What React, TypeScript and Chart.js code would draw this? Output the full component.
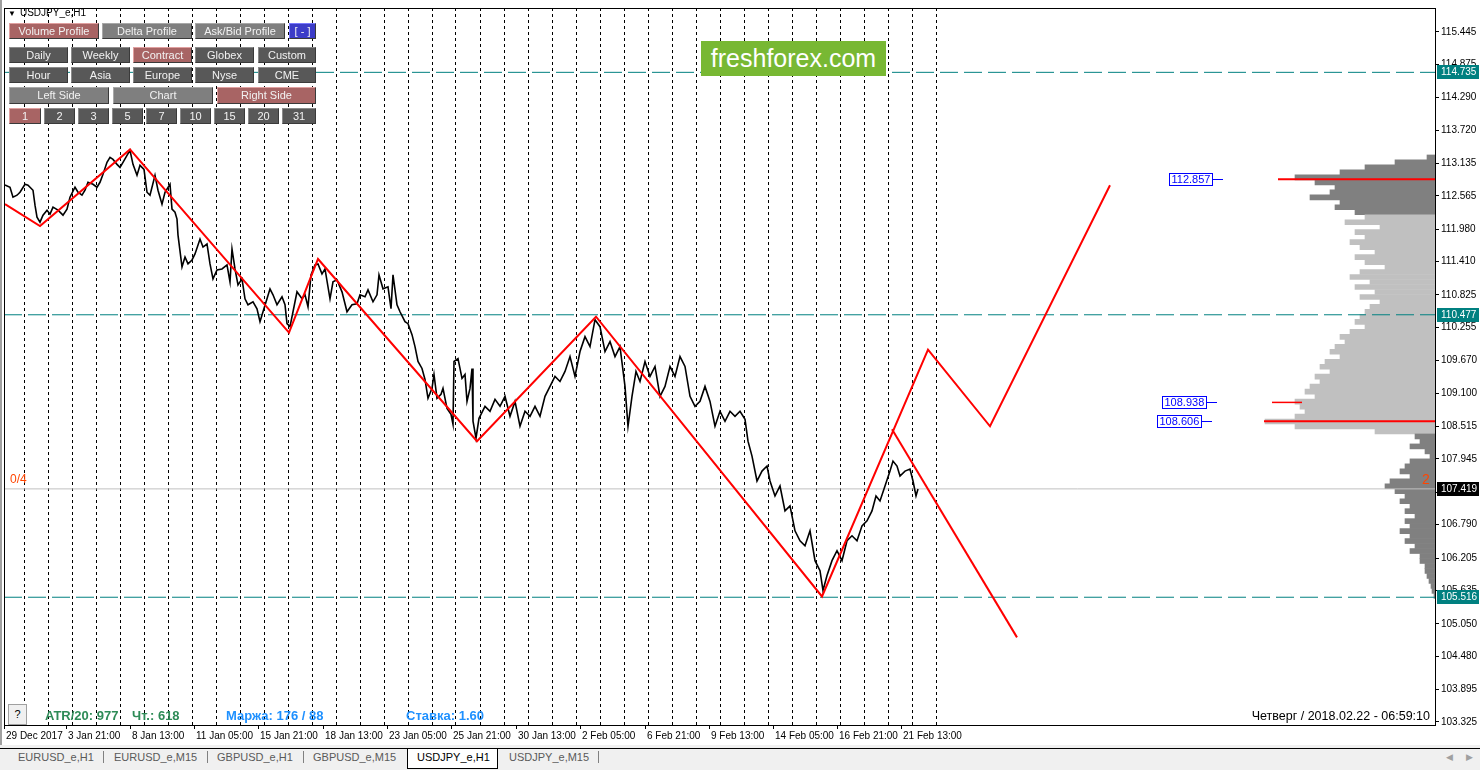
import React, { useEffect, useRef } from 'react';
import { Chart, registerables } from 'chart.js';
Chart.register(...registerables);

// ---------- axes ----------
const X_MIN = 0;
const X_MAX = 1431;
const Y_MIN = 103.272;
const Y_MAX = 115.865;

const Y_TICKS = [115.445, 114.875, 114.29, 113.72, 113.135, 112.565, 111.98, 111.41, 110.825, 110.255, 109.67, 109.1, 108.515, 107.945, 107.36, 106.79, 106.205, 105.635, 105.05, 104.48, 103.895, 103.325];

const X_LABEL_BARS = [0, 62, 126, 190, 254, 319, 383, 447, 512, 576, 641, 705, 769, 833, 897];
const X_LABEL_TEXT = ['29 Dec 2017', '3 Jan 21:00', '8 Jan 13:00', '11 Jan 05:00', '15 Jan 21:00', '18 Jan 13:00', '23 Jan 05:00', '25 Jan 21:00', '30 Jan 13:00', '2 Feb 05:00', '6 Feb 21:00', '9 Feb 13:00', '14 Feb 05:00', '16 Feb 21:00', '21 Feb 13:00'];

const FIRST_DAY_BAR = 20;
const BARS_PER_DAY = 24;
const DAY_COUNT = 39;

// ---------- price (H1 close, bar index) ----------
const PRICE_BARS = [1, 6, 9, 13, 16, 21, 24, 29, 31, 33, 36, 39, 43, 46, 49, 54, 59, 63, 66, 71, 74, 78, 81, 84, 89, 93, 96, 99, 103, 106, 109, 113, 116, 119, 123, 126, 129, 133, 136, 140, 143, 146, 151, 154, 158, 161, 166, 168, 171, 173, 174, 178, 181, 184, 188, 191, 196, 199, 203, 206, 209, 213, 218, 223, 226, 228, 231, 234, 238, 241, 244, 249, 253, 256, 259, 263, 266, 269, 273, 278, 281, 283, 286, 289, 293, 298, 301, 304, 307, 311, 314, 318, 321, 326, 329, 333, 338, 343, 348, 353, 356, 361, 364, 369, 373, 375, 379, 384, 387, 389, 393, 396, 401, 404, 408, 411, 414, 418, 421, 424, 428, 430, 433, 437, 439, 443, 447, 449, 450, 454, 458, 461, 463, 466, 468, 469, 472, 475, 476, 481, 486, 491, 496, 501, 506, 511, 516, 521, 526, 531, 536, 541, 546, 551, 556, 561, 566, 571, 576, 581, 586, 591, 596, 601, 606, 611, 616, 621, 624, 628, 632, 636, 641, 646, 651, 656, 661, 666, 671, 676, 681, 686, 691, 696, 701, 706, 711, 716, 721, 726, 731, 736, 741, 744, 748, 753, 758, 763, 766, 771, 776, 781, 786, 791, 796, 801, 806, 811, 816, 819, 823, 828, 833, 838, 843, 848, 853, 858, 863, 868, 872, 876, 881, 886, 889, 893, 896, 901, 906, 909, 912, 914];
const PRICE_CLOSE = [112.757, 112.717, 112.542, 112.577, 112.629, 112.769, 112.752, 112.664, 112.402, 112.192, 112.104, 112.227, 112.314, 112.244, 112.367, 112.314, 112.227, 112.332, 112.542, 112.717, 112.629, 112.577, 112.664, 112.804, 112.769, 112.717, 112.804, 112.944, 113.154, 113.241, 113.206, 113.119, 113.066, 113.154, 113.276, 113.364, 113.119, 112.926, 113.101, 113.031, 112.629, 112.577, 112.926, 112.664, 112.419, 112.629, 112.769, 112.332, 112.279, 112.157, 111.877, 111.317, 111.492, 111.37, 111.44, 111.545, 111.807, 111.667, 111.72, 111.37, 111.108, 111.265, 111.282, 111.352, 111.055, 111.632, 111.282, 111.003, 111.108, 110.758, 110.653, 110.705, 110.583, 110.356, 110.53, 110.758, 110.933, 110.828, 110.653, 110.793, 110.653, 110.321, 110.268, 110.53, 110.88, 110.758, 110.828, 110.618, 111.178, 111.352, 111.37, 111.195, 111.282, 110.758, 111.055, 111.09, 110.88, 110.53, 110.653, 110.67, 110.828, 110.793, 110.915, 110.705, 110.828, 111.178, 110.933, 110.968, 110.583, 111.178, 110.653, 110.53, 110.356, 110.321, 110.128, 109.918, 109.656, 109.534, 109.341, 109.009, 109.184, 109.429, 109.009, 109.079, 109.184, 108.834, 108.729, 108.554, 109.656, 109.708, 109.359, 109.429, 108.956, 109.184, 109.534, 108.607, 108.309, 108.659, 108.694, 108.869, 108.782, 108.991, 108.869, 109.044, 108.694, 108.956, 108.519, 108.782, 108.694, 108.869, 108.694, 109.044, 109.219, 109.394, 109.306, 109.481, 109.743, 109.394, 109.831, 110.093, 109.918, 110.39, 110.268, 109.831, 110.006, 109.743, 109.918, 109.219, 108.519, 109.044, 109.481, 109.306, 109.656, 109.394, 109.569, 109.044, 109.219, 109.569, 109.394, 109.743, 109.569, 109.044, 108.869, 108.956, 109.219, 108.956, 108.519, 108.782, 108.607, 108.782, 108.694, 108.782, 108.642, 108.257, 107.995, 107.557, 107.732, 107.82, 107.557, 107.295, 107.47, 107.033, 107.12, 106.683, 106.508, 106.42, 106.683, 106.158, 105.983, 105.634, 105.896, 106.158, 106.333, 106.158, 106.508, 106.595, 106.508, 106.77, 106.858, 107.033, 107.295, 107.207, 107.47, 107.732, 107.907, 107.82, 107.645, 107.732, 107.767, 107.557, 107.295, 107.418];

// ---------- zigzag (red) ----------
const ZIGZAG_BARS = [1, 36, 126, 285, 314, 473, 592, 818, 924, 986, 1106];
const ZIGZAG_PRICE = [112.419, 112.034, 113.381, 110.163, 111.457, 108.257, 110.443, 105.529, 109.866, 108.519, 112.752];
const BRANCH_BARS = [888, 1013];
const BRANCH_PRICE = [108.467, 104.811];

// ---------- levels ----------
const TEAL_LEVELS = [114.735, 110.477, 105.516];
const BID = 107.419;
const POC_PRICE = [112.857, 108.938, 108.606];
const POC_START_BAR = [1274, 1268, 1260];
const POC_END_BAR = [1431, 1298, 1431];
const POC_WIDTH = [2, 1.5, 2];
const POC_LABEL_BAR = [1208, 1202, 1197];

// ---------- volume profile ----------
const PROFILE_TOP = 113.24;
const PROFILE_STEP = 0.0875;
const PROFILE_VOLUME = [8, 40, 70, 95, 140, 120, 100, 105, 125, 95, 100, 80, 70, 90, 55, 80, 70, 85, 75, 60, 80, 70, 50, 75, 85, 65, 80, 60, 75, 55, 65, 70, 75, 80, 70, 85, 95, 90, 100, 105, 95, 110, 115, 105, 120, 115, 125, 130, 120, 140, 135, 130, 140, 170, 140, 60, 20, 15, 25, 10, 5, 25, 30, 35, 25, 45, 50, 40, 30, 35, 25, 30, 20, 30, 25, 35, 25, 30, 20, 25, 15, 15, 10, 10, 8, 6, 4, 3, 1];
const VA_HIGH = 112.25;
const VA_LOW = 108.4;

const FONT = '"Liberation Sans", Arial, sans-serif';

const overlayPlugin = {
  id: 'overlay',
  afterDraw(chart: any) {
    const { ctx, chartArea: a, scales } = chart;
    const ys = scales.y;
    const xs = scales.x;
    ctx.save();
    ctx.strokeStyle = '#000';
    ctx.lineWidth = 1;
    ctx.strokeRect(a.left + 0.5, a.top + 0.5, a.right - a.left, a.bottom - a.top);
    ctx.font = `10px ${FONT}`;
    ctx.textBaseline = 'middle';
    ctx.textAlign = 'left';
    const box = (v: number, bg: string) => {
      const y = Math.round(ys.getPixelForValue(v));
      ctx.fillStyle = bg;
      ctx.fillRect(a.right + 2, y - 7, 42, 14);
      ctx.fillStyle = '#fff';
      ctx.fillText(v.toFixed(3), a.right + 6, y + 0.5);
    };
    TEAL_LEVELS.forEach((v) => box(v, '#008080'));
    box(BID, '#000');
    ctx.font = `11px ${FONT}`;
    POC_PRICE.forEach((p, i) => {
      const y = Math.round(ys.getPixelForValue(p));
      const xr = Math.round(xs.getPixelForValue(POC_LABEL_BAR[i]));
      const txt = p.toFixed(3);
      const w = Math.ceil(ctx.measureText(txt).width) + 4;
      ctx.fillStyle = '#fff';
      ctx.fillRect(xr - w, y - 6, w, 13);
      ctx.strokeStyle = '#0000ff';
      ctx.lineWidth = 1;
      ctx.strokeRect(xr - w + 0.5, y - 6 + 0.5, w, 12);
      ctx.beginPath();
      ctx.moveTo(xr, y + 0.5);
      ctx.lineTo(xr + 11, y + 0.5);
      ctx.stroke();
      ctx.fillStyle = '#0000ff';
      ctx.fillText(txt, xr - w + 2.5, y + 1);
    });
    ctx.restore();
  },
};

type Btn = [string, number, number, number, number, string];
const BUTTONS: Btn[] = [
  ['Volume Profile', 9, 23, 99, 39, 'red'],
  ['Delta Profile', 102, 23, 192, 39, 'mid'],
  ['Ask/Bid Profile', 195, 23, 285, 39, 'mid'],
  ['[ - ]', 289, 23, 316, 39, 'blue'],
  ['Daily', 9, 47, 68, 63, 'dark'],
  ['Weekly', 71, 47, 130, 63, 'dark'],
  ['Contract', 133, 47, 192, 63, 'red'],
  ['Globex', 195, 47, 254, 63, 'dark'],
  ['Custom', 258, 47, 316, 63, 'dark'],
  ['Hour', 9, 67, 68, 83, 'dark'],
  ['Asia', 71, 67, 130, 83, 'dark'],
  ['Europe', 133, 67, 192, 83, 'dark'],
  ['Nyse', 195, 67, 254, 83, 'dark'],
  ['CME', 258, 67, 316, 83, 'dark'],
  ['Left Side', 9, 87, 109, 104, 'mid'],
  ['Chart', 113, 87, 213, 104, 'mid'],
  ['Right Side', 217, 87, 316, 104, 'red'],
  ['1', 9, 108, 41, 124, 'red'],
  ['2', 44, 108, 75, 124, 'dark'],
  ['3', 78, 108, 109, 124, 'dark'],
  ['5', 112, 108, 143, 124, 'dark'],
  ['7', 146, 108, 177, 124, 'dark'],
  ['10', 180, 108, 211, 124, 'dark'],
  ['15', 214, 108, 245, 124, 'dark'],
  ['20', 248, 108, 279, 124, 'dark'],
  ['31', 282, 108, 316, 124, 'dark'],
];
const BTN_STYLE: Record<string, [string, string]> = {
  red: ['#a86464', '#e0a0a0'],
  mid: ['#7f7f7f', '#a8a8a8'],
  dark: ['#585858', '#8a8a8a'],
  blue: ['#3c3cc8', '#7878ff'],
};

const TABS: [string, number, boolean][] = [
  ['EURUSD_e,H1', 18, false],
  ['EURUSD_e,M15', 114, false],
  ['GBPUSD_e,H1', 217, false],
  ['GBPUSD_e,M15', 313, false],
  ['USDJPY_e,H1', 417, true],
  ['USDJPY_e,M15', 509, false],
];
const TAB_SEPS = [103, 207, 303, 598];

export default function App() {
  const ref = useRef<HTMLCanvasElement>(null);
  useEffect(() => {
    Chart.defaults.font.family = FONT;
    const dayTicks: { value: number }[] = [];
    for (let i = 0; i < DAY_COUNT; i++) dayTicks.push({ value: FIRST_DAY_BAR + i * BARS_PER_DAY });

    const line = (data: any[], color: string, width: number, extra: any = {}) => ({
      type: 'line',
      data,
      borderColor: color,
      borderWidth: width,
      pointRadius: 0,
      tension: 0,
      fill: false,
      spanGaps: false,
      ...extra,
    });

    const datasets: any[] = [
      line(ZIGZAG_BARS.map((b, i) => ({ x: b, y: ZIGZAG_PRICE[i] })), '#ff0000', 2),
      line(BRANCH_BARS.map((b, i) => ({ x: b, y: BRANCH_PRICE[i] })), '#ff0000', 2),
      ...POC_PRICE.map((p, i) => line([{ x: POC_START_BAR[i], y: p }, { x: POC_END_BAR[i], y: p }], '#ff0000', POC_WIDTH[i])),
      line(PRICE_BARS.map((b, i) => ({ x: b, y: PRICE_CLOSE[i] })), '#000000', 1.6),
      ...TEAL_LEVELS.map((p) => line([{ x: X_MIN, y: p }, { x: X_MAX, y: p }], '#008080', 1, { borderDash: [18, 6] })),
      line([{ x: X_MIN, y: BID }, { x: X_MAX, y: BID }], '#c0c0c0', 1),
      {
        type: 'bar',
        indexAxis: 'y',
        data: PROFILE_VOLUME.map((v, i) => ({ y: PROFILE_TOP - i * PROFILE_STEP, x: [X_MAX - v, X_MAX] })),
        backgroundColor: (c: any) => {
          const p = c.raw ? c.raw.y : 110;
          return p > VA_HIGH || p < VA_LOW ? '#808080' : '#c0c0c0';
        },
        borderWidth: 0,
        barPercentage: 1,
        categoryPercentage: 1,
        xAxisID: 'x',
        yAxisID: 'y',
      },
    ];

    const chart = new Chart(ref.current as HTMLCanvasElement, {
      type: 'line',
      data: { datasets },
      options: {
        responsive: false,
        maintainAspectRatio: false,
        animation: false,
        devicePixelRatio: 1,
        events: [],
        layout: { padding: { left: 4, top: 5, right: 0, bottom: 0 } },
        plugins: { legend: { display: false }, tooltip: { enabled: false } },
        scales: {
          x: {
            type: 'linear',
            position: 'bottom',
            min: X_MIN,
            max: X_MAX,
            offset: false,
            afterBuildTicks: (s: any) => {
              s.ticks = X_LABEL_BARS.map((v) => ({ value: v }));
            },
            afterFit: (s: any) => {
              s.height = 21;
            },
            ticks: {
              autoSkip: false,
              maxRotation: 0,
              minRotation: 0,
              align: 'start',
              labelOffset: 2,
              padding: 1,
              color: '#000',
              font: { size: 10, family: FONT },
              callback: (v: any) => {
                const i = X_LABEL_BARS.indexOf(Number(v));
                return i >= 0 ? X_LABEL_TEXT[i] : '';
              },
            },
            grid: { drawOnChartArea: false, drawTicks: true, tickLength: 4, color: '#000', lineWidth: 1, offset: false },
            border: { display: false },
          },
          xDays: {
            type: 'linear',
            position: 'bottom',
            min: X_MIN,
            max: X_MAX,
            offset: false,
            afterBuildTicks: (s: any) => {
              s.ticks = dayTicks.slice();
            },
            afterFit: (s: any) => {
              s.height = 0;
            },
            ticks: { display: false },
            grid: { drawOnChartArea: true, drawTicks: false, color: '#000', lineWidth: 1, offset: false },
            border: { display: false, dash: [3, 3] },
          },
          y: {
            type: 'linear',
            position: 'right',
            min: Y_MIN,
            max: Y_MAX,
            offset: false,
            afterBuildTicks: (s: any) => {
              s.ticks = Y_TICKS.map((v) => ({ value: v }));
            },
            afterFit: (s: any) => {
              s.width = 45;
            },
            ticks: {
              autoSkip: false,
              color: '#000',
              padding: 2,
              font: { size: 10, family: FONT },
              callback: (v: any) => Number(v).toFixed(3),
            },
            grid: { drawOnChartArea: false, drawTicks: true, tickLength: 4, color: '#000', lineWidth: 1, offset: false },
            border: { display: false },
          },
        },
      } as any,
      plugins: [overlayPlugin],
    } as any);
    return () => chart.destroy();
  }, []);

  const abs = (l: number, t: number, extra: any = {}): any => ({ position: 'absolute', left: l, top: t, whiteSpace: 'nowrap', ...extra });

  return (
    <div style={{ position: 'fixed', left: 0, top: 0, width: 1480, height: 770, background: '#fff', overflow: 'hidden', fontFamily: FONT }}>
      <canvas ref={ref} width={1480} height={746} style={{ position: 'absolute', left: 0, top: 0, width: 1480, height: 746 }} />
      <div style={abs(0, 0, { width: 2, height: 746, background: '#a0a0a0' })} />
      <div style={abs(8, 7, { fontSize: 10, color: '#000', lineHeight: '12px' })}>
        <span style={{ fontSize: 8, marginRight: 4 }}>▼</span>USDJPY_e,H1
      </div>
      {BUTTONS.map(([label, l, t, r, b, kind]) => {
        const [bg, bd] = BTN_STYLE[kind];
        return (
          <div
            key={label + l + t}
            style={abs(l, t, {
              width: r - l,
              height: b - t,
              boxSizing: 'border-box',
              background: bg,
              border: `1px solid ${bd}`,
              borderRightColor: '#3a3a3a',
              borderBottomColor: '#3a3a3a',
              color: '#f2f2f2',
              fontSize: 11,
              lineHeight: `${b - t - 2}px`,
              textAlign: 'center',
            })}
          >
            {label}
          </div>
        );
      })}
      <div style={abs(701, 41, { width: 185, height: 35, background: '#78b833', color: '#fff', fontSize: 25, lineHeight: '35px', textAlign: 'center' })}>freshforex.com</div>
      <div style={abs(10, 472, { color: '#ff4500', fontSize: 12, lineHeight: '14px' })}>0/4</div>
      <div style={abs(1422, 471, { color: '#ff4500', fontSize: 14, lineHeight: '16px' })}>2</div>
      <div style={abs(8, 704, { width: 19, height: 21, boxSizing: 'border-box', background: '#f0f0f0', border: '1px solid #a0a0a0', fontSize: 11, lineHeight: '19px', textAlign: 'center', color: '#000' })}>?</div>
      <div style={abs(45, 708, { color: '#2e8b57', fontSize: 13, fontWeight: 'bold', lineHeight: '16px' })}>ATR/20: 977</div>
      <div style={abs(132, 708, { color: '#2e8b57', fontSize: 13, fontWeight: 'bold', lineHeight: '16px' })}>Чт.: 618</div>
      <div style={abs(226, 708, { color: '#1e90ff', fontSize: 13, fontWeight: 'bold', lineHeight: '16px' })}>Маржа: 176 / 88</div>
      <div style={abs(406, 708, { color: '#1e90ff', fontSize: 13, fontWeight: 'bold', lineHeight: '16px' })}>Ставка: 1.60</div>
      <div style={abs(1230, 708, { width: 200, textAlign: 'right', color: '#000', fontSize: 12.5, lineHeight: '16px' })}>Четверг / 2018.02.22 - 06:59:10</div>
      <div style={abs(0, 745, { width: 1480, height: 25, background: '#f0f0f0' })} />
      <div style={abs(0, 748, { width: 1480, height: 1, background: '#000' })} />
      <div style={abs(407, 748, { width: 91, height: 21, boxSizing: 'border-box', background: '#fff', border: '1px solid #000' })} />
      {TABS.map(([t, l, act]) => (
        <div key={t} style={abs(l, 750, { fontSize: 11, lineHeight: '15px', color: act ? '#000' : '#5a5a5a' })}>{t}</div>
      ))}
      {TAB_SEPS.map((x) => (
        <div key={x} style={abs(x, 751, { width: 1, height: 12, background: '#808080' })} />
      ))}
      <div style={abs(1446, 751, { fontSize: 9, color: '#a0a0a0', lineHeight: '12px' })}>◀</div>
      <div style={abs(1466, 751, { fontSize: 9, color: '#a0a0a0', lineHeight: '12px' })}>▶</div>
    </div>
  );
}
